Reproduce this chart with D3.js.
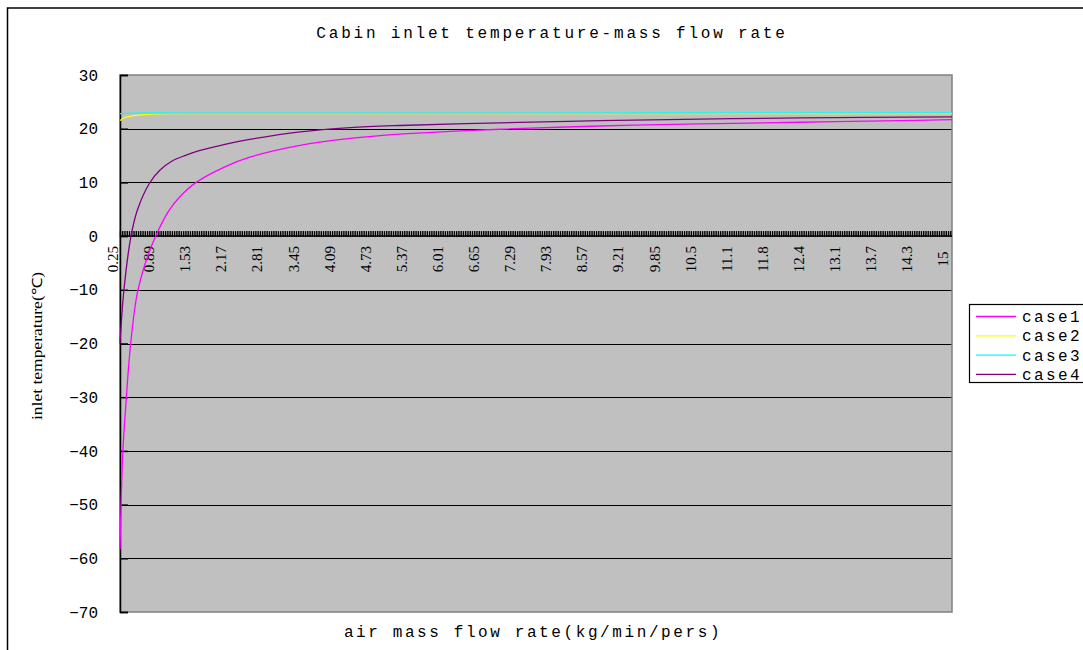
<!DOCTYPE html>
<html>
<head>
<meta charset="utf-8">
<script src="https://cdn.jsdelivr.net/npm/d3@7"></script>
<style>
  html, body { margin: 0; padding: 0; background: #fff; }
  svg { display: block; }
</style>
</head>
<body>
<svg id="chart" width="1083" height="650"></svg>
<script>
// Axis categories (air mass flow rate, kg/min/pers) and their printed labels
const tickPositions = [0.25, 0.89, 1.53, 2.17, 2.81, 3.45, 4.09, 4.73, 5.37, 6.01, 6.65, 7.29,
                       7.93, 8.57, 9.21, 9.85, 10.49, 11.13, 11.77, 12.41, 13.05, 13.69, 14.33, 14.97];
const tickLabels = ["0.25", "0.89", "1.53", "2.17", "2.81", "3.45", "4.09", "4.73", "5.37", "6.01", "6.65", "7.29",
                    "7.93", "8.57", "9.21", "9.85", "10.5", "11.1", "11.8", "12.4", "13.1", "13.7", "14.3", "15"];
const yTicks = [30, 20, 10, 0, -10, -20, -30, -40, -50, -60, -70];

// Inlet temperature (°C) against flow rate, one list per case
const case1 = [[0.25, -58.3], [0.27, -49.7], [0.30, -40.2], [0.36, -30.5], [0.43, -21.0], [0.55, -11.0],
               [0.70, -5.0], [0.87, -0.3], [1.12, 4.8], [1.30, 7.2], [1.60, 10.0], [2.11, 12.9], [2.55, 14.7],
               [3.44, 16.9], [4.33, 18.2], [5.21, 19.0], [6.10, 19.5], [6.99, 19.9], [8.76, 20.5],
               [10.53, 20.9], [12.31, 21.2], [14.08, 21.5], [15.0, 21.7]];
const case2 = [[0.25, 21.5], [0.30, 21.9], [0.46, 22.4], [0.80, 22.7], [1.20, 22.8], [2.00, 22.8],
               [6.00, 22.8], [15.0, 22.8]];
const case3 = [[0.25, 22.8], [0.50, 22.9], [2.00, 22.9], [6.00, 22.9], [15.0, 22.95]];
const case4 = [[0.25, -20.0], [0.32, -10.0], [0.445, 0.0], [0.56, 4.9], [0.77, 9.8], [0.96, 12.3],
               [1.16, 13.9], [1.40, 15.0], [1.67, 15.95], [2.11, 17.1], [2.55, 18.0], [3.44, 19.4],
               [4.33, 20.2], [5.21, 20.6], [6.99, 21.1], [8.76, 21.5], [10.53, 21.8], [12.31, 22.0],
               [15.0, 22.2]];

const seriesNames = ["case1", "case2", "case3", "case4"];
const seriesData = [case1, case2, case3, case4];
const seriesColors = ["#ff00ff", "#ffff00", "#00ffff", "#800080"];

const svg = d3.select("#chart");
const plot = { left: 120, right: 952, top: 75, bottom: 612 };

const x = d3.scaleLinear().domain([0.25, 15]).range([plot.left, plot.right]);
const y = d3.scaleLinear().domain([-70, 30]).range([plot.bottom, plot.top]);

// outer chart frame
svg.append("rect")
  .attr("x", 7.5).attr("y", 8).attr("width", 1100).attr("height", 700)
  .attr("fill", "#fff").attr("stroke", "#000").attr("stroke-width", 1.5);

// title
svg.append("text")
  .attr("x", 552).attr("y", 38)
  .attr("text-anchor", "middle")
  .style("font-family", "'Liberation Mono', monospace")
  .style("font-size", "16px")
  .style("letter-spacing", "2.8px")
  .attr("fill", "#000")
  .text("Cabin inlet temperature-mass flow rate");

// plot area
svg.append("rect")
  .attr("x", plot.left).attr("y", plot.top)
  .attr("width", plot.right - plot.left).attr("height", plot.bottom - plot.top)
  .attr("fill", "#c0c0c0");

// horizontal gridlines
svg.append("g")
  .selectAll("line")
  .data(yTicks.filter(v => v !== 30 && v !== -70 && v !== 0))
  .join("line")
  .attr("x1", plot.left).attr("x2", plot.right)
  .attr("y1", d => Math.round(y(d)) + 0.5).attr("y2", d => Math.round(y(d)) + 0.5)
  .attr("stroke", "#000").attr("stroke-width", 1.2);

// plot border
svg.append("rect")
  .attr("x", plot.left).attr("y", plot.top)
  .attr("width", plot.right - plot.left).attr("height", plot.bottom - plot.top)
  .attr("fill", "none").attr("stroke", "#808080").attr("stroke-width", 1.5);

// value axis (left) with inward ticks
const yAxis = d3.axisRight(y).tickValues(yTicks).tickSize(8).tickFormat("");
const gy = svg.append("g").attr("transform", `translate(${plot.left},0)`).call(yAxis);
gy.select(".domain").attr("stroke", "#000").attr("stroke-width", 1.5);
gy.selectAll(".tick line").attr("stroke", "#000").attr("stroke-width", 1.5);

svg.append("g")
  .selectAll("text")
  .data(yTicks)
  .join("text")
  .attr("x", 98).attr("y", d => y(d))
  .attr("dy", "0.35em")
  .attr("text-anchor", "end")
  .style("font-family", "'Liberation Mono', monospace")
  .style("font-size", "16px")
  .attr("fill", "#000")
  .text(d => d < 0 ? "\u2212" + Math.abs(d) : String(d));

// category axis crossing at zero, with dense tick marks
const xAxis = d3.axisBottom(x)
  .tickValues(d3.range(0.25, 15.0001, 0.04))
  .tickSize(6)
  .tickSizeOuter(0)
  .tickFormat("");
const gx = svg.append("g").attr("transform", `translate(0,${y(0) - 5})`).call(xAxis);
gx.select(".domain").remove();
gx.selectAll(".tick line").attr("stroke", "#000").attr("stroke-width", 1.4);
svg.append("line")
  .attr("x1", plot.left).attr("x2", plot.right)
  .attr("y1", y(0)).attr("y2", y(0))
  .attr("stroke", "#000").attr("stroke-width", 1.5);

// category labels, rotated
svg.append("g")
  .selectAll("text")
  .data(tickPositions)
  .join("text")
  .attr("transform", d => `translate(${x(d) - 7},259) rotate(-90)`)
  .attr("text-anchor", "middle")
  .attr("dominant-baseline", "central")
  .style("font-family", "'Liberation Serif', serif")
  .style("font-size", "15px")
  .attr("fill", "#000")
  .text((d, i) => tickLabels[i]);

// series lines
const line = d3.line()
  .x(d => x(d[0]))
  .y(d => y(d[1]))
  .curve(d3.curveCatmullRom.alpha(0.5));

svg.append("g")
  .selectAll("path")
  .data(seriesData)
  .join("path")
  .attr("d", d => line(d))
  .attr("fill", "none")
  .attr("stroke", (d, i) => seriesColors[i])
  .attr("stroke-width", 1.3);

// axis titles
svg.append("text")
  .attr("x", 533).attr("y", 637)
  .attr("text-anchor", "middle")
  .style("font-family", "'Liberation Mono', monospace")
  .style("font-size", "16px")
  .style("letter-spacing", "2.6px")
  .attr("fill", "#000")
  .text("air mass flow rate(kg/min/pers)");

svg.append("text")
  .attr("transform", "translate(37,346) rotate(-90)")
  .attr("text-anchor", "middle")
  .attr("dominant-baseline", "central")
  .attr("textLength", 148)
  .attr("lengthAdjust", "spacingAndGlyphs")
  .style("font-family", "'Liberation Serif', serif")
  .style("font-size", "14px")
  .attr("fill", "#000")
  .text("inlet temperature(\u2103)");

// legend
const legend = svg.append("g");
legend.append("rect")
  .attr("x", 969.5).attr("y", 304.5).attr("width", 130).attr("height", 78)
  .attr("fill", "#fff").attr("stroke", "#000").attr("stroke-width", 1.2);
const rows = legend.selectAll("g.row")
  .data(seriesNames)
  .join("g")
  .attr("class", "row")
  .attr("transform", (d, i) => `translate(0,${316.5 + i * 19.3})`);
rows.append("line")
  .attr("x1", 976).attr("x2", 1016)
  .attr("stroke", (d, i) => seriesColors[i]).attr("stroke-width", 1.3);
rows.append("text")
  .attr("x", 1022).attr("dy", "0.35em")
  .style("font-family", "'Liberation Mono', monospace")
  .style("font-size", "16px")
  .style("letter-spacing", "2.4px")
  .attr("fill", "#000")
  .text(d => d);
</script>
</body>
</html>
